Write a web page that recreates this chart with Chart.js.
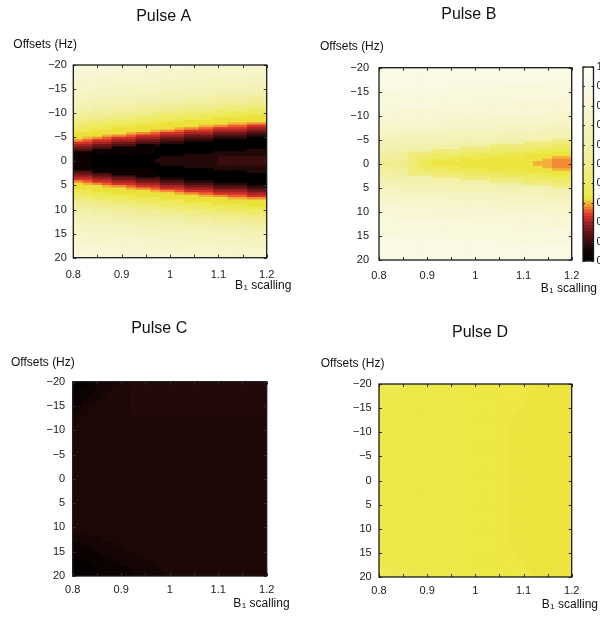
<!DOCTYPE html>
<html>
<head>
<meta charset="utf-8">
<title>Pulse maps</title>
<script src="https://cdn.jsdelivr.net/npm/chart.js@4.4.0/dist/chart.umd.min.js"></script>
<style>
  html, body { margin: 0; padding: 0; background: #fff; overflow: hidden; }
  #wrap { position: relative; width: 600px; height: 617px; }
  canvas { position: absolute; }
</style>
</head>
<body>
<div id="wrap">
  <canvas id="pulseA" width="300" height="310" style="left:0;top:0"></canvas>
  <canvas id="pulseB" width="300" height="310" style="left:300px;top:0"></canvas>
  <canvas id="pulseC" width="300" height="307" style="left:0;top:310px"></canvas>
  <canvas id="pulseD" width="300" height="307" style="left:300px;top:310px"></canvas>
  <canvas id="cbar" width="60" height="230" style="left:570px;top:50px"></canvas>
</div>
<script>
// axes
const b1Range = [0.8, 1.2];
const offsetRange = [-20, 20];
const b1Ticks = [0.8, 0.9, 1, 1.1, 1.2];
const b1TickMarks = [0.8, 0.85, 0.9, 0.95, 1, 1.05, 1.1, 1.15, 1.2];
const offsetTicks = [-20, -15, -10, -5, 0, 5, 10, 15, 20];
const cbarTicks = [0, 0.1, 0.2, 0.3, 0.4, 0.5, 0.6, 0.7, 0.8, 0.9, 1];

// signal level codes used in the maps below (row strings are run-length: code + count)
const levelCodes = 'AaBbcCdeDEFGHIJKklmLMNOPQRSTUVWXY';
const levelValues = [0, .02, .04, .06, .07, .08, .09, .10, .12, .16, .20, .23, .26, .28, .30, .32, .33,
  .34, .35, .36, .40, .45, .50, .55, .60, .65, .70, .75, .80, .85, .90, .95, 1];

// colour map (black - red - yellow - white)
const cmapStops = [0, .05, .08, .10, .13, .16, .19, .22, .245, .265, .28, .30, .32, .34, .40, .50, .60, .70, .80, .90, 1];
const cmapColors = ['#000000', '#0f0303', '#240909', '#3a0c0c', '#561212', '#701818', '#962020', '#c42a28',
  '#e43c2a', '#ef6a2e', '#f38c32', '#f4b038', '#ece03a', '#ede845', '#eeea66', '#f0ed8e', '#f2f0aa',
  '#f5f3c0', '#f8f6d4', '#fafae4', '#fefef6'];

// rows go from offset -20 (top) to +20 (bottom), columns from B1 = 0.8 to 1.2
const pulseARows = [
  'V8 U21 T11', 'V4 U19 T17', 'U18 T22', 'U13 T27', 'U8 T28 S4', 'U4 T25 S11', 'T23 S17', 'T18 S22',
  'T13 S23 R4', 'T8 S21 R11', 'T4 S19 R17', 'S18 R18 Q4', 'S13 R16 Q11', 'S8 R15 Q13 P4',
  'S4 R14 Q11 P11', 'R13 Q10 P13 O4', 'R8 Q10 P11 O11', 'R4 Q9 P10 O9 N8', 'Q8 P10 O8 N10 M4',
  'Q4 P9 O8 N8 M11', 'P8 O8 N7 M9 L8', 'P4 O7 N7 M8 L10 K4', 'O6 N7 M8 L8 K11', 'O2 N6 M8 L7 K17',
  'N4 M7 L7 K14 J4 I4', 'M6 L7 K13 J3 I3 H4 G4', 'M2 L6 K13 J2 I3 H3 G7 F4', 'L4 K12 J2 I3 H2 G6 F7 E4',
  'K11 J2 I3 H2 G5 F6 E7 D4', 'K6 J2 I3 H2 G5 F5 E6 D7 C4', 'K2 J2 I2 H2 G5 F5 E5 D6 C7 A4',
  'I2 H2 G4 F5 E5 D5 C6 A11', 'G4 F4 E5 D5 C5 A17', 'F4 E4 D5 B4 C1 A22', 'E4 D4 B9 A23',
  'D4 B13 A19 C4', 'B17 A12 C11', 'B4 A19 C17', 'B4 A14 C12 e10', 'B4 A13 C13 e10',
  'B4 A13 C13 e10', 'B4 A14 C12 e10', 'B4 A19 C17', 'B17 A12 C11', 'D4 B13 A19 C4',
  'E4 D4 B9 A23', 'F4 E4 D5 B4 C1 A22', 'G4 F4 E5 D5 C5 A17', 'I2 H2 G4 F5 E5 D5 C6 A11',
  'K2 J2 I2 H2 G5 F5 E5 D6 C7 A4', 'K6 J2 I3 H2 G5 F5 E6 D7 C4', 'K11 J2 I3 H2 G5 F6 E7 D4',
  'L4 K12 J2 I3 H2 G6 F7 E4', 'M2 L6 K13 J2 I3 H3 G7 F4', 'M6 L7 K13 J3 I3 H4 G4', 'N4 M7 L7 K14 J4 I4',
  'O2 N6 M8 L7 K17', 'O6 N7 M8 L8 K11', 'P4 O7 N7 M8 L10 K4', 'P8 O8 N7 M9 L8', 'Q4 P9 O8 N8 M11',
  'Q8 P10 O8 N10 M4', 'R4 Q9 P10 O9 N8', 'R8 Q10 P11 O11', 'R13 Q10 P13 O4', 'S4 R14 Q11 P11',
  'S8 R15 Q13 P4', 'S13 R16 Q11', 'S18 R18 Q4', 'T4 S19 R17', 'T8 S21 R11', 'T13 S23 R4',
  'T18 S22', 'T23 S17', 'U4 T25 S11', 'U8 T28 S4', 'U13 T27', 'U18 T22', 'V4 U19 T17', 'V8 U21 T11'
];

const pulseBRows = [
  'W40', 'W40', 'W40', 'W40', 'W40', 'W40', 'W35 V5', 'W25 V15', 'W15 V25', 'W5 V35',
  'V40', 'V40', 'V40', 'V36 U4', 'V28 U12', 'V20 U20', 'V12 U28', 'V4 U36', 'U40', 'U35 T5',
  'U25 T15', 'U15 T25', 'U5 T35', 'T35 S5', 'T25 S15', 'T15 S25', 'T5 S30 R5', 'S25 R15',
  'S15 R25', 'S5 R30 Q5', 'R25 Q11 N4', 'R15 Q15 N10', 'R5 Q18 N13 M4', 'Q17 N13 M9 L1',
  'Q11 N12 M10 L7', 'Q4 P2 N11 M9 L10 k4', 'P6 N5 M9 L10 k10', 'P6 N2 M6 L9 k13 J4',
  'P4 O2 N2 M2 L7 k17 J2 I4', 'O6 N2 M1 L2 k21 J4 I4',
  'O6 N2 M1 L2 k21 J4 I4', 'P4 O2 N2 M2 L7 k17 J2 I4', 'P6 N2 M6 L9 k13 J4', 'P6 N5 M9 L10 k10',
  'Q4 P2 N11 M9 L10 k4', 'Q11 N12 M10 L7', 'Q17 N13 M9 L1', 'R5 Q18 N13 M4', 'R15 Q15 N10',
  'R25 Q11 N4', 'S5 R30 Q5', 'S15 R25', 'S25 R15', 'T5 S30 R5', 'T15 S25', 'T25 S15', 'T35 S5',
  'U5 T35', 'U15 T25', 'U25 T15', 'U35 T5', 'U40', 'V4 U36', 'V12 U28', 'V20 U20', 'V28 U12',
  'V36 U4', 'V40', 'V40', 'V40', 'W5 V35', 'W15 V25', 'W25 V15', 'W35 V5',
  'W40', 'W40', 'W40', 'W40', 'W40', 'W40'
];

const pulseCRows = [
  'a3 B3 b3 c3 C28', 'a2 B3 b3 c4 C28', 'a1 B3 b3 c5 C28', 'B3 b3 c6 C28', 'B2 b3 c7 C28',
  'B1 b3 c8 C28', 'b3 c9 C28', 'b2 c38', 'b1 c39',
  'c40', 'c40', 'c40', 'c40', 'c40', 'c40', 'c40', 'c40', 'c40', 'c40', 'c40',
  'c40', 'c40', 'c40', 'c40', 'c40', 'c40', 'c40', 'c40', 'c40', 'c40', 'c40',
  'b3 c37', 'b6 c34', 'B2 b7 c31', 'B4 b7 c29', 'B6 b7 c27', 'a2 B6 b7 c25', 'a4 B6 b7 c23',
  'a5 B7 b6 c22', 'a6 B7 b6 c21'
];

const pulseDRows = [
  'L6 m11 l15 k8', 'L4 m13 l14 k9', 'L2 m15 l14 k9', 'L1 m16 l13 k10', 'm17 l13 k10',
  'm17 l12 k11', 'm17 l11 k12', 'm17 l11 k12',
  'm17 l10 k13', 'm17 l10 k13', 'm17 l10 k13', 'm17 l10 k13', 'm17 l10 k13',
  'm17 l10 k13', 'm17 l10 k13', 'm17 l10 k13', 'm17 l10 k13', 'm17 l10 k13',
  'm17 l10 k13', 'm17 l10 k13', 'm17 l10 k13', 'm17 l10 k13', 'm17 l10 k13',
  'm17 l10 k13', 'm17 l10 k13', 'm17 l10 k13', 'm17 l10 k13', 'm17 l10 k13',
  'm17 l10 k13', 'm17 l10 k13', 'm17 l10 k13', 'm17 l10 k13', 'm17 l10 k13',
  'm17 l11 k12', 'm17 l11 k12', 'm17 l12 k11', 'L2 m15 l12 k11', 'L4 m13 l13 k10',
  'L6 m11 l14 k9', 'L8 m9 l15 k8'
];

const FONT = '"Liberation Sans", Arial, Helvetica, sans-serif';
Chart.defaults.font.family = FONT;
Chart.defaults.color = '#1a1a1a';

function decodeRows(rows) {
  return rows.map(row => {
    const out = [];
    row.trim().split(/\s+/).forEach(tok => {
      const v = levelValues[levelCodes.indexOf(tok[0])];
      const n = parseInt(tok.slice(1), 10);
      for (let i = 0; i < n; i++) out.push(v);
    });
    return out;
  });
}

const cmapRgb = cmapColors.map(h => [1, 3, 5].map(i => parseInt(h.slice(i, i + 2), 16)));
function colorFor(v) {
  let i = 0;
  while (i < cmapStops.length - 2 && v > cmapStops[i + 1]) i++;
  const t = Math.min(1, Math.max(0, (v - cmapStops[i]) / (cmapStops[i + 1] - cmapStops[i])));
  const a = cmapRgb[i], b = cmapRgb[i + 1];
  return 'rgb(' + a.map((c, k) => Math.round(c + (b[k] - c) * t)).join(',') + ')';
}

// box, inner tick marks, title and axis names
const panelDecor = {
  id: 'panelDecor',
  afterDraw(chart, args, o) {
    const { ctx, chartArea: a, scales: { x, y } } = chart;
    ctx.save();
    ctx.strokeStyle = '#333';
    ctx.lineWidth = 1;
    ctx.beginPath();
    b1TickMarks.forEach(v => {
      const px = Math.round(x.getPixelForValue(v)) + 0.5;
      ctx.moveTo(px, a.bottom); ctx.lineTo(px, a.bottom - 3);
      ctx.moveTo(px, a.top); ctx.lineTo(px, a.top + 3);
    });
    offsetTicks.forEach(v => {
      const py = Math.round(y.getPixelForValue(v)) + 0.5;
      ctx.moveTo(a.left, py); ctx.lineTo(a.left + 3, py);
      ctx.moveTo(a.right, py); ctx.lineTo(a.right - 3, py);
    });
    ctx.stroke();
    ctx.strokeStyle = '#1a1a1a';
    ctx.lineWidth = 1.3;
    ctx.strokeRect(a.left, a.top, a.right - a.left, a.bottom - a.top);

    ctx.fillStyle = '#111';
    ctx.textBaseline = 'middle';
    ctx.textAlign = 'center';
    ctx.font = '16px ' + FONT;
    ctx.fillText(o.title, o.titleX, o.titleY);

    ctx.textAlign = 'left';
    ctx.font = '12px ' + FONT;
    ctx.fillText('Offsets (Hz)', o.yNameX, o.yNameY);

    let xx = o.xNameX;
    ctx.fillText('B', xx, o.xNameY);
    xx += ctx.measureText('B').width + 0.5;
    ctx.font = '8px ' + FONT;
    ctx.fillText('1', xx, o.xNameY + 2);
    xx += ctx.measureText('1').width;
    ctx.font = '12px ' + FONT;
    ctx.fillText(' scalling', xx, o.xNameY);
    ctx.restore();
  }
};

function drawPanel(id, rows, lay) {
  const grid = decodeRows(rows);
  const nRows = grid.length, nCols = grid[0].length;
  const dx = (b1Range[1] - b1Range[0]) / nCols;
  const dy = (offsetRange[1] - offsetRange[0]) / nRows;
  const cells = [], colors = [];
  grid.forEach((row, r) => row.forEach((v, c) => {
    cells.push({ x: b1Range[0] + (c + 0.5) * dx, y: [offsetRange[0] + r * dy, offsetRange[0] + (r + 1) * dy] });
    colors.push(colorFor(v));
  }));
  const canvas = document.getElementById(id);
  const xAxisH = 30;
  new Chart(canvas, {
    type: 'bar',
    data: {
      datasets: [{
        data: cells,
        backgroundColor: colors,
        borderWidth: 0,
        barPercentage: 1,
        categoryPercentage: 1,
        inflateAmount: 0.4
      }]
    },
    options: {
      responsive: false,
      animation: false,
      events: [],
      layout: {
        padding: {
          left: 0,
          top: lay.area[1],
          right: canvas.width - lay.area[2],
          bottom: canvas.height - lay.area[3] - xAxisH
        }
      },
      plugins: {
        legend: { display: false },
        tooltip: { enabled: false },
        panelDecor: lay
      },
      scales: {
        x: {
          type: 'linear',
          min: b1Range[0],
          max: b1Range[1],
          offset: false,
          grid: { display: false, drawTicks: false, offset: false },
          border: { display: false },
          afterBuildTicks: s => { s.ticks = b1Ticks.map(v => ({ value: v })); },
          afterFit: s => { s.height = xAxisH; },
          ticks: { font: { size: 11 }, padding: lay.xPad, maxRotation: 0, callback: v => String(v) }
        },
        y: {
          type: 'linear',
          min: offsetRange[0],
          max: offsetRange[1],
          reverse: true,
          grid: { display: false, drawTicks: false },
          border: { display: false },
          afterBuildTicks: s => { s.ticks = offsetTicks.map(v => ({ value: v })); },
          afterFit: s => { s.width = lay.area[0]; },
          ticks: { font: { size: 11 }, padding: lay.yPad, callback: v => (v < 0 ? '\u2212' + (-v) : String(v)) }
        }
      }
    },
    plugins: [panelDecor]
  });
}

drawPanel('pulseA', pulseARows, {
  area: [73.3, 65, 266.7, 257.7], xPad: 10.7, yPad: 6.5,
  title: 'Pulse A', titleX: 163.7, titleY: 17, 
  yNameX: 13.3, yNameY: 44.3, xNameX: 235, xNameY: 286
});
drawPanel('pulseB', pulseBRows, {
  area: [79, 67.7, 271.7, 260], xPad: 8.9, yPad: 10,
  title: 'Pulse B', titleX: 168.8, titleY: 15,
  yNameX: 20, yNameY: 47, xNameX: 240.7, xNameY: 288.3
});
drawPanel('pulseC', pulseCRows, {
  area: [72.7, 71.7, 266.7, 266], xPad: 7, yPad: 7.5,
  title: 'Pulse C', titleX: 159.2, titleY: 18.8,
  yNameX: 11, yNameY: 52.3, xNameX: 233.3, xNameY: 293.3
});
drawPanel('pulseD', pulseDRows, {
  area: [79, 74, 271.7, 267], xPad: 7.4, yPad: 7.3,
  title: 'Pulse D', titleX: 180, titleY: 22.2,
  yNameX: 20.7, yNameY: 53.3, xNameX: 241.7, xNameY: 295
});

// colour bar next to Pulse B
const cbarSteps = 64;
const cbarCells = [], cbarColors = [];
for (let i = 0; i < cbarSteps; i++) {
  cbarCells.push({ x: 'cb', y: [i / cbarSteps, (i + 1) / cbarSteps] });
  cbarColors.push(colorFor((i + 0.5) / cbarSteps));
}
const cbarFrame = {
  id: 'cbarFrame',
  afterDraw(chart) {
    const { ctx, chartArea: a, scales: { y } } = chart;
    ctx.save();
    ctx.strokeStyle = '#333';
    ctx.lineWidth = 1;
    ctx.beginPath();
    cbarTicks.forEach(v => {
      const py = Math.round(y.getPixelForValue(v)) + 0.5;
      ctx.moveTo(a.left, py); ctx.lineTo(a.left + 2, py);
      ctx.moveTo(a.right, py); ctx.lineTo(a.right - 2, py);
    });
    ctx.stroke();
    ctx.strokeStyle = '#1a1a1a';
    ctx.lineWidth = 1.3;
    ctx.strokeRect(a.left, a.top, a.right - a.left, a.bottom - a.top);
    ctx.restore();
  }
};
new Chart(document.getElementById('cbar'), {
  type: 'bar',
  data: {
    labels: ['cb'],
    datasets: [{
      data: cbarCells,
      backgroundColor: cbarColors,
      borderWidth: 0,
      barPercentage: 1,
      categoryPercentage: 1,
      inflateAmount: 0.4
    }]
  },
  options: {
    responsive: false,
    animation: false,
    events: [],
    layout: { padding: { left: 13, top: 17, right: 0, bottom: 19 } },
    plugins: { legend: { display: false }, tooltip: { enabled: false } },
    scales: {
      x: { type: 'category', display: false, offset: true },
      y: {
        position: 'right',
        min: 0,
        max: 1,
        grid: { display: false, drawTicks: false },
        border: { display: false },
        afterBuildTicks: s => { s.ticks = cbarTicks.map(v => ({ value: v })); },
        afterFit: s => { s.width = 36.5; },
        ticks: { font: { size: 11 }, padding: 3, callback: v => String(v) }
      }
    }
  },
  plugins: [cbarFrame]
});
</script>
</body>
</html>
